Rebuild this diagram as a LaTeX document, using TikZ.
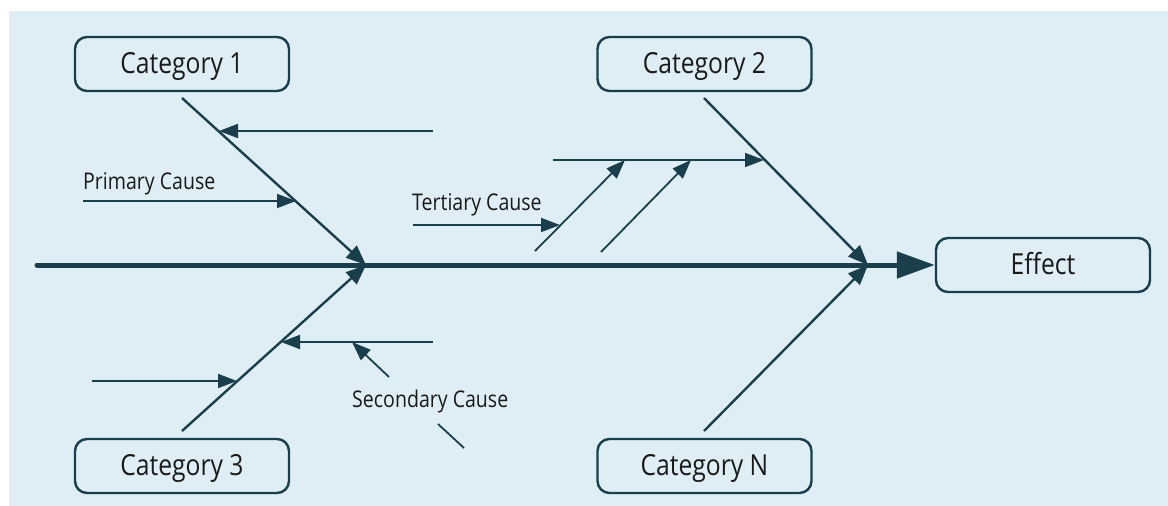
\documentclass[tikz,border=0pt]{standalone}
\usepackage{fontspec}
\setmainfont{Open Sans}[FakeStretch=0.85]
\usetikzlibrary{arrows.meta}
\definecolor{bgc}{HTML}{DFEEF4}
\definecolor{ink}{HTML}{1A3F4C}
\definecolor{txt}{HTML}{1A1A1A}
\begin{document}
\begin{tikzpicture}[x=1pt,y=-1pt,
  catbox/.style={draw=ink, line width=2.4pt, rounded corners=12pt,
    minimum width=214pt, minimum height=54pt, inner sep=0pt,
    text height=21pt, text depth=3pt,
    font=\fontsize{29}{30}\selectfont, text=txt},
  lbl/.style={font=\fontsize{23}{25}\selectfont, text=txt, inner sep=0pt},
  bone/.style={draw=ink, line width=2.4pt, -{Triangle[length=20pt,width=16pt]}},
  spine/.style={draw=ink, line width=5pt, line cap=round, -{Triangle[length=38pt,width=26pt]}},
  cause/.style={draw=ink, line width=1.8pt, -{Triangle[length=19pt,width=14pt]}},
  plain/.style={draw=ink, line width=1.8pt}]
\useasboundingbox (0,0) rectangle (1168,506);
\fill[white] (0,0) rectangle (1168,506);
\fill[bgc] (9,11) rectangle (1168,506);

% boxes
\node[catbox] (c1) at (182,64) {Category 1};
\node[catbox] (c2) at (704.5,64) {Category 2};
\node[catbox] (c3) at (182,466) {Category 3};
\node[catbox] (cn) at (704.5,466) {Category N};
\node[catbox] (eff) at (1043,265) {Effect};

% spine
\coordinate (tail) at (37,265);
\coordinate (j1) at (366,265);
\coordinate (j2) at (868,265);
\draw[spine] (tail) -- (eff.west);

% bones
\coordinate (b1) at (182,98);
\coordinate (b2) at (704,98);
\coordinate (b3) at (182,431);
\coordinate (bn) at (704,431);
\draw[bone] (b1) -- (j1);
\draw[bone] (b3) -- (j1);
\draw[bone] (b2) -- (j2);
\draw[bone] (bn) -- (j2);

% category 1 causes
\coordinate (a1s) at (433,131);
\coordinate (a1e) at (219,131);
\draw[cause] (a1s) -- (a1e);
\coordinate (p1s) at (83,201);
\coordinate (p1e) at (296,201);
\draw[cause] (p1s) -- (p1e);
\node[lbl, anchor=base west] (prim) at (83,189) {Primary Cause};

% category 3 causes
\coordinate (s1s) at (433,342);
\coordinate (s1e) at (281,342);
\draw[cause] (s1s) -- (s1e);
\coordinate (s2s) at (92,381);
\coordinate (s2e) at (237,381);
\draw[cause] (s2s) -- (s2e);
\coordinate (ss) at (389,377);
\coordinate (se) at (352,342);
\draw[cause] (ss) -- (se);
\node[lbl, anchor=base west] (sec) at (352,407) {Secondary Cause};
\coordinate (x1) at (438,424);
\coordinate (x2) at (464,448);
\draw[plain] (x1) -- (x2);

% category 2 causes
\coordinate (h1s) at (553,160);
\coordinate (h1e) at (764,160);
\draw[cause] (h1s) -- (h1e);
\coordinate (d1s) at (535,251);
\coordinate (d1e) at (625,160);
\draw[cause] (d1s) -- (d1e);
\coordinate (d2s) at (601,252);
\coordinate (d2e) at (691,160);
\draw[cause] (d2s) -- (d2e);
\coordinate (t1s) at (413,225);
\coordinate (t1e) at (560,225);
\draw[cause] (t1s) -- (t1e);
\node[lbl, anchor=base west] (ter) at (412,210) {Tertiary Cause};
\end{tikzpicture}
\end{document}
